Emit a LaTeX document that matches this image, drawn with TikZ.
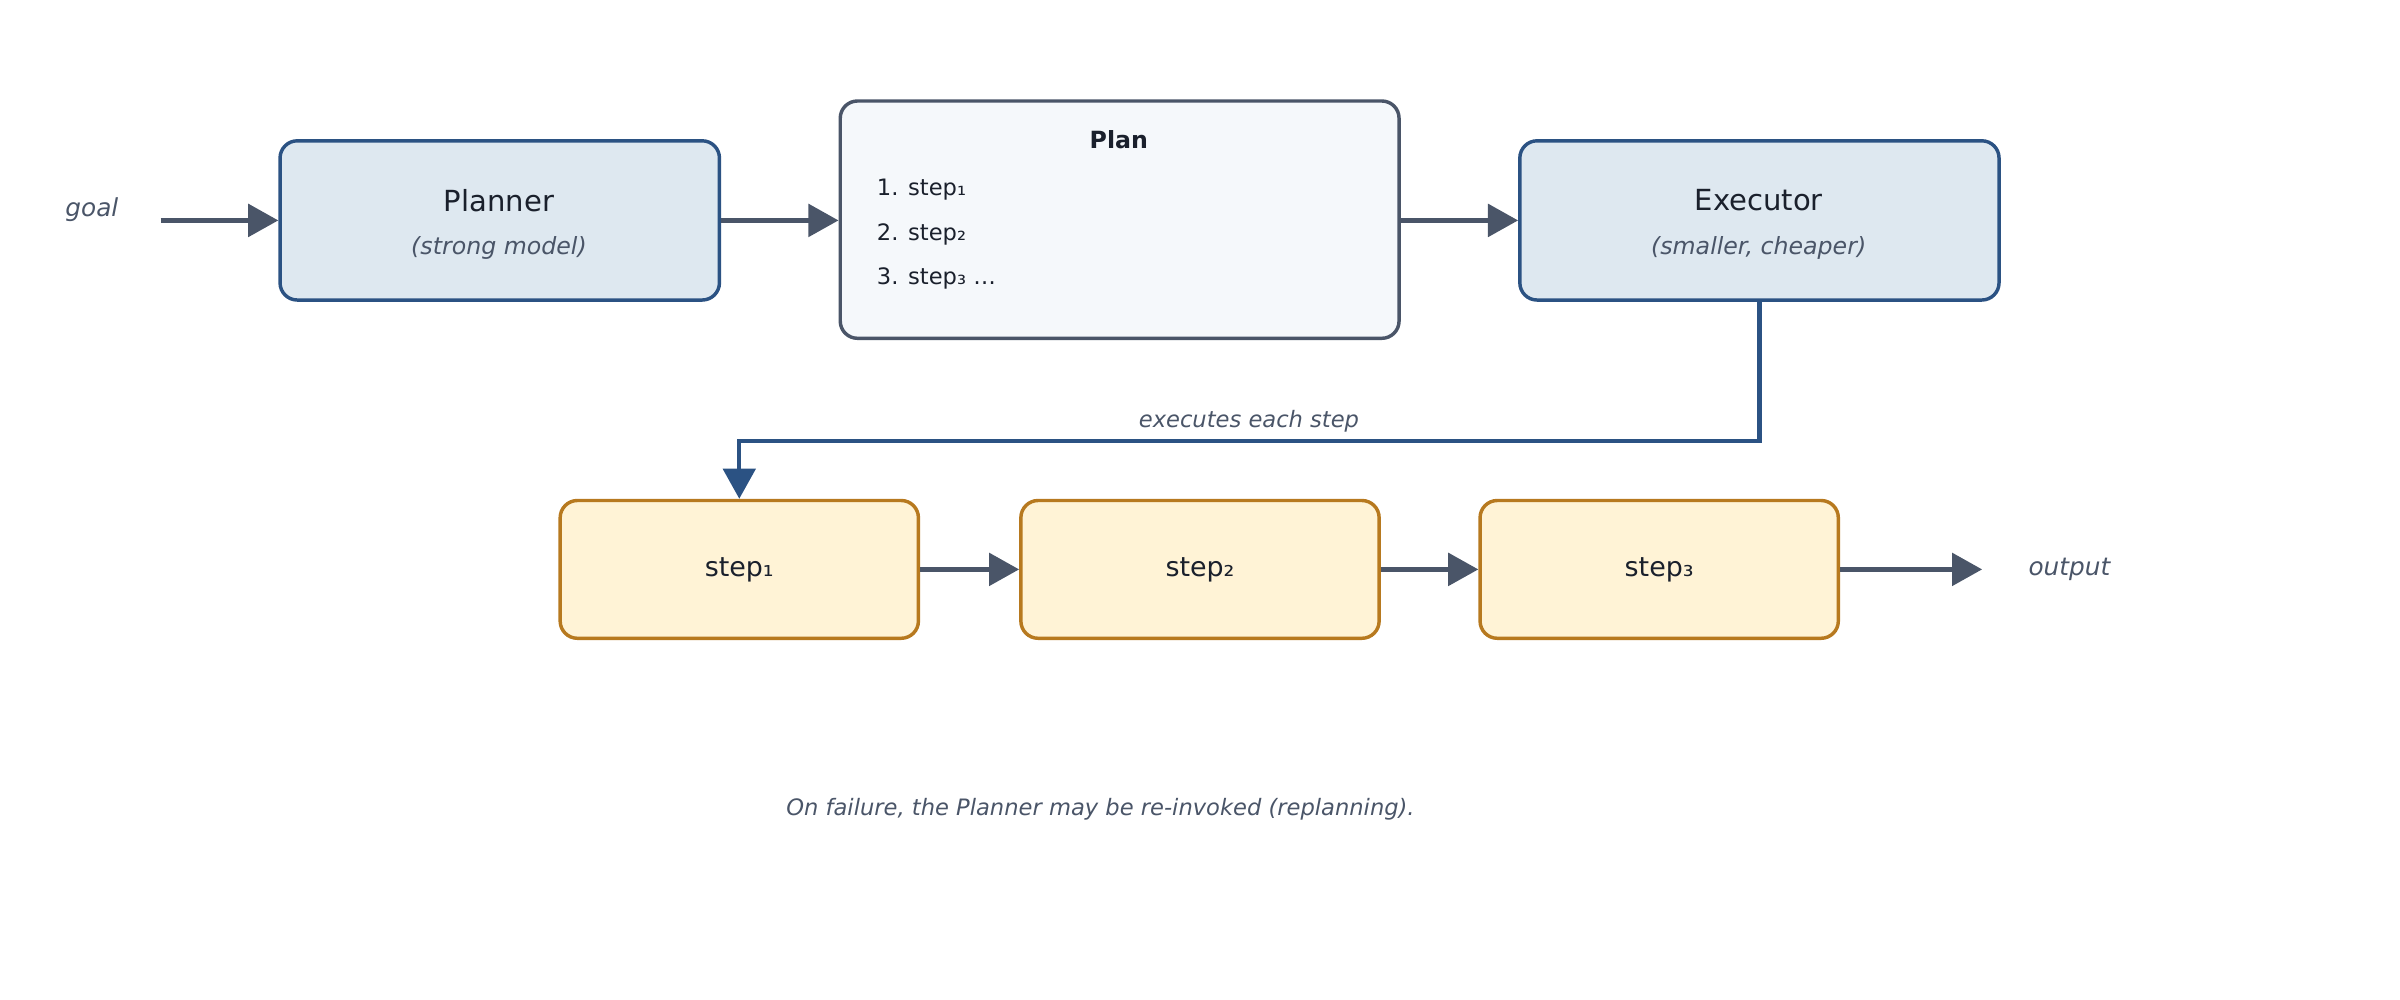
\documentclass[tikz,border=0pt]{standalone}
\usepackage{fontspec}
\setmainfont{DejaVu Sans}
\usetikzlibrary{arrows.meta}
\definecolor{navy}{HTML}{2B5283}
\definecolor{slate}{HTML}{4A5568}
\definecolor{ink}{HTML}{1A202C}
\definecolor{note}{HTML}{4A5568}
\definecolor{bluefill}{HTML}{DEE8F0}
\definecolor{planfill}{HTML}{F5F8FB}
\definecolor{stepfill}{HTML}{FFF3D6}
\definecolor{ochre}{HTML}{B7791F}
\begin{document}
\begin{tikzpicture}[x=0.025cm,y=-0.025cm,
	agent/.style={rectangle, rounded corners=8pt, draw=navy, line width=1.6pt, fill=bluefill, align=center, text=ink},
	plan/.style={rectangle, rounded corners=8pt, draw=slate, line width=1.6pt, fill=planfill, minimum width=9.125cm, minimum height=3.875cm},
	stepbox/.style={rectangle, rounded corners=8pt, draw=ochre, line width=1.6pt, fill=stepfill, minimum width=5.85cm, minimum height=2.25cm, text=ink, font=\fontsize{12.5}{15}\selectfont},
	flow/.style={draw=slate, line width=2.2pt, -{Triangle[length=14pt,width=15pt]}},
	side/.style={text=note, font=\fontsize{11.5}{14}\selectfont\itshape}]
	\useasboundingbox (0,0) rectangle (1568,653);

	%Nodes
	\node[side] (goal) at (60,137) {goal};
	\node[agent, minimum width=7.175cm, minimum height=2.6cm] (planner) at (326.5,144) {};
	\node[text=ink, font=\fontsize{13.5}{16}\selectfont] at (326,131) {Planner};
	\node[side, font=\fontsize{11}{13}\selectfont\itshape] at (326,162) {(strong model)};
	\node[plan] (plan) at (731.5,143.5) {};
	\node[text=ink, font=\fontsize{11}{13}\selectfont\bfseries] at (731,91) {Plan};
	\node[text=ink, anchor=west, font=\fontsize{10.5}{13}\selectfont] at (568,124) {1. step₁};
	\node[text=ink, anchor=west, font=\fontsize{10.5}{13}\selectfont] at (568,153) {2. step₂};
	\node[text=ink, anchor=west, font=\fontsize{10.5}{13}\selectfont] at (568,182) {3. step₃ …};
	\node[agent, minimum width=7.825cm, minimum height=2.6cm] (exec) at (1149.5,144) {};
	\node[text=ink, font=\fontsize{13.5}{16}\selectfont] at (1149,131) {Executor};
	\node[side, font=\fontsize{11}{13}\selectfont\itshape] at (1149,162) {(smaller, cheaper)};
	\node[stepbox] (s1) at (483,372) {step₁};
	\node[stepbox] (s2) at (784,372) {step₂};
	\node[stepbox] (s3) at (1084,372) {step₃};
	\node[side] (out) at (1352,372) {output};
	\coordinate (gin) at (105,144);
	\coordinate (oend) at (1295,372);
	\node[side, font=\fontsize{10.5}{13}\selectfont\itshape] (each) at (816,275) {executes each step};
	\node[side, font=\fontsize{10.5}{13}\selectfont\itshape] (fail) at (719,529) {On failure, the Planner may be re-invoked (replanning).};

	%Lines
	\draw[flow] (gin) -- (planner);
	\draw[flow] (planner) -- (plan.west |- planner);
	\draw[flow] (plan.east |- exec) -- (exec);
	\draw[flow, draw=navy, line width=2pt] (exec.south) -- ++(0,91) -| (s1.north);
	\draw[flow] (s1) -- (s2);
	\draw[flow] (s2) -- (s3);
	\draw[flow] (s3) -- (oend);
\end{tikzpicture}
\end{document}
